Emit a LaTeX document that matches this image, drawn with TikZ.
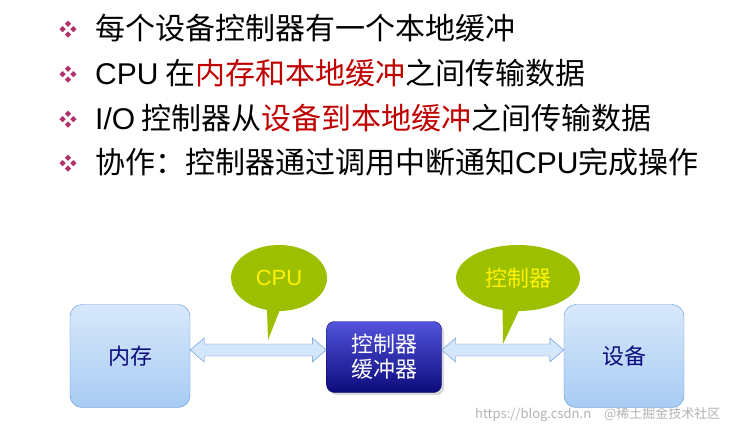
\documentclass[tikz,border=0pt]{standalone}
\usepackage{fontspec}
\setmainfont{Noto Sans CJK SC}
\newfontfamily\latin{Liberation Sans}
\usetikzlibrary{shapes.callouts,shadows}
\definecolor{redt}{HTML}{C00000}
\definecolor{bullet}{HTML}{B0306A}
\definecolor{lbox}{HTML}{A8CCF4}
\definecolor{lboxb}{HTML}{5B8FD8}
\definecolor{dbox}{HTML}{1010B0}
\definecolor{callg}{HTML}{9CC000}
\begin{document}
\begin{tikzpicture}[x=1pt,y=-1pt,
  bul/.style={text=bullet,font=\fontsize{18}{18}\selectfont},
  line/.style={anchor=west,inner sep=0pt,font=\fontsize{30}{30}\selectfont},
  lbx/.style={draw=lboxb,rounded corners=12pt,minimum width=120pt,minimum height=103pt,
    top color=lbox!45,bottom color=lbox,font=\fontsize{22}{22}\selectfont,text=dbox!70!black},
  dbx/.style={draw=dbox!60!black,rounded corners=8pt,minimum width=115pt,minimum height=71pt,
    top color=dbox!60!blue!70,bottom color=dbox!70!black,text=white,align=center,font=\fontsize{22}{25}\selectfont,
    drop shadow={opacity=0.3}},
  dar/.style={draw=lboxb,fill=lbox!50,line join=miter},
  cal/.style={ellipse callout,fill=callg,text=yellow,font=\fontsize{22}{22}\selectfont}]
\useasboundingbox (0,0) rectangle (734,441);
\foreach \y/\n in {28/a,73/b,118/c,162/d}{\node[bul] (b\n) at (68,\y+2) {❖};}
\node[line] (la) at (95,28) {每个设备控制器有一个本地缓冲};
\node[line] (lb) at (95,73) {{\latin CPU} 在\textcolor{redt}{内存和本地缓冲}之间传输数据};
\node[line] (lc) at (95,118) {{\latin I/O} 控制器从\textcolor{redt}{设备到本地缓冲}之间传输数据};
\node[line] (ld) at (95,162) {协作：控制器通过调用中断通知{\latin CPU}完成操作};
\node[lbx] (mem) at (130,356) {内存};
\node[lbx] (dev) at (624,356) {设备};
\node[dbx] (ctl) at (384,357) {控制器\\缓冲器};
\path[dar] (mem.east|-0,350) -- ++(14,-12) -- ++(0,6) -- ([xshift=-14pt]ctl.west|-0,344) -- ++(0,-6) -- (ctl.west|-0,350)
  -- ++(-14,12) -- ++(0,-6) -- ([xshift=14pt]mem.east|-0,356) -- ++(0,6) -- cycle;
\path[dar] (ctl.east|-0,350) -- ++(14,-12) -- ++(0,6) -- ([xshift=-14pt]dev.west|-0,344) -- ++(0,-6) -- (dev.west|-0,350)
  -- ++(-14,12) -- ++(0,-6) -- ([xshift=14pt]ctl.east|-0,356) -- ++(0,6) -- cycle;
\coordinate (p1) at (268,340);
\coordinate (p2) at (503,344);
\node[cal,minimum width=96pt,minimum height=66pt,callout absolute pointer=(p1)] (c1) at (279,278) {\latin CPU};
\node[cal,minimum width=124pt,minimum height=66pt,callout absolute pointer=(p2)] (c2) at (518,278) {控制器};
\node[text=gray!60,anchor=east,font=\fontsize{13}{13}\selectfont] (wm) at (724,415) {https://blog.csdn.n\quad @稀土掘金技术社区};
\end{tikzpicture}
\end{document}
